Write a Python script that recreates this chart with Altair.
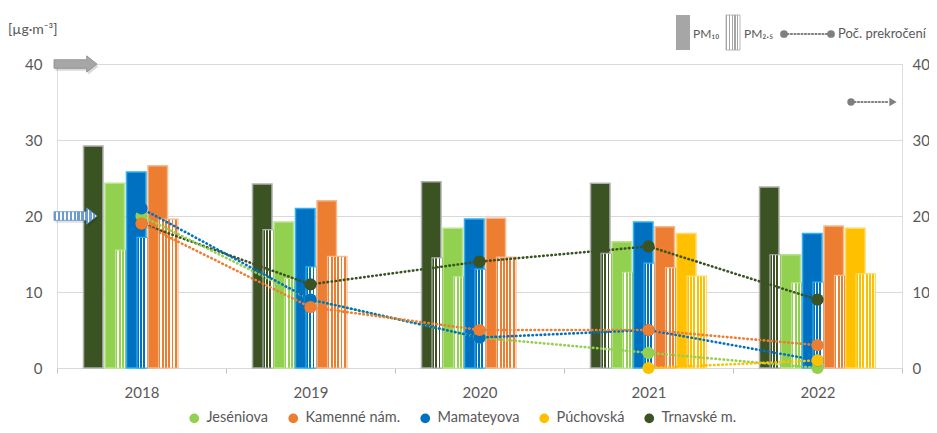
import altair as alt
import pandas as pd

# ---------------- data ----------------
years = ["2018", "2019", "2020", "2021", "2022"]
legend_order = ["Jeséniova", "Kamenné nám.", "Mamateyova", "Púchovská", "Trnavské m."]
legend_colors = ["#92D050", "#ED7D31", "#0070C0", "#FFC000", "#3B5323"]
edge_colors = ["#B9E38F", "#F6B98E", "#2FB0F0", "#FFD966", "#B0B0B0"]

# order of bars inside a year cluster
cluster_order = ["Trnavské m.", "Jeséniova", "Mamateyova", "Kamenné nám.", "Púchovská"]
# z-order of the exceedance points / lines (bottom -> top)
line_order = ["Trnavské m.", "Jeséniova", "Mamateyova", "Kamenné nám.", "Púchovská"]

pm10_trnavske = [29.2, 24.2, 24.5, 24.3, 23.8]
pm10_jeseniova = [24.3, 19.2, 18.4, 16.6, 14.9]
pm10_mamateyova = [25.8, 21.0, 19.6, 19.2, 17.7]
pm10_kamenne = [26.6, 22.0, 19.7, 18.6, 18.7]
pm10_puchovska = [None, None, None, 17.7, 18.4]

pm25_trnavske = [None, 18.2, 14.5, 15.1, 14.9]
pm25_jeseniova = [15.5, 11.8, 12.0, 12.6, 11.2]
pm25_mamateyova = [17.2, 13.3, 13.0, 13.8, 11.3]
pm25_kamenne = [19.6, 14.7, 14.6, 13.2, 12.2]
pm25_puchovska = [None, None, None, 12.1, 12.4]

exc_trnavske = [19, 11, 14, 16, 9]
exc_jeseniova = [20, 9, 4, 2, 0]
exc_mamateyova = [21, 9, 4, 5, 1]
exc_kamenne = [19, 8, 5, 5, 3]
exc_puchovska = [None, None, None, 0, 1]

limit_pm10 = 40
limit_pm25 = 20
limit_exceed = 35

unit_label = "[µg·m⁻³]"
label_pm10 = "PM₁₀"
label_pm25 = "PM₂.₅"
label_exceed = "Poč. prekročení"

pm10 = {"Trnavské m.": pm10_trnavske, "Jeséniova": pm10_jeseniova,
        "Mamateyova": pm10_mamateyova, "Kamenné nám.": pm10_kamenne,
        "Púchovská": pm10_puchovska}
pm25 = {"Trnavské m.": pm25_trnavske, "Jeséniova": pm25_jeseniova,
        "Mamateyova": pm25_mamateyova, "Kamenné nám.": pm25_kamenne,
        "Púchovská": pm25_puchovska}
exc = {"Trnavské m.": exc_trnavske, "Jeséniova": exc_jeseniova,
       "Mamateyova": exc_mamateyova, "Kamenné nám.": exc_kamenne,
       "Púchovská": exc_puchovska}
color_of = dict(zip(legend_order, legend_colors))
edge_of = dict(zip(legend_order, edge_colors))

# ---------------- layout (pixels) ----------------
W, H = 845, 304
BAND = W / len(years)
START, STEP, BARW, OFF25 = -58.0, 21.5, 19.5, 10.5
FONT = "Lato"
GREY_TXT = "#595959"

x_scale = alt.Scale(domain=[-0.5, len(years) - 0.5], nice=False, zero=False)
tick_vals = [i * 0.5 - 0.5 for i in range(2 * len(years) + 1)]
year_arr = "[" + ",".join("'" + y + "'" for y in years) + "]"
x_axis = alt.Axis(
    values=tick_vals, title=None, grid=False,
    labelExpr="datum.value % 1 === 0 ? " + year_arr + "[datum.value] : ''",
    domainColor="#D9D9D9", domainWidth=1,
    tickColor="#BFBFBF", tickSize=5,
    tickOpacity={"condition": {"test": "datum.value % 1 === 0", "value": 0}, "value": 1},
    labelFontSize=15, labelColor=GREY_TXT, labelPadding=12, labelFont=FONT,
)
y_scale_l = alt.Scale(domain=[0, 40], nice=False)
y_scale_r = alt.Scale(domain=[0, 40], nice=False)
y_axis_l = alt.Axis(values=[0, 10, 20, 30, 40], title=None, domain=False, ticks=False,
                    grid=True, gridColor="#D9D9D9", gridWidth=1,
                    labelFontSize=15, labelColor=GREY_TXT, labelPadding=15, labelFont=FONT)
y_axis_r = alt.Axis(values=[0, 10, 20, 30, 40], title=None, domain=False, ticks=False,
                    grid=False, orient="right",
                    labelFontSize=15, labelColor=GREY_TXT, labelPadding=10, labelFont=FONT)


def stripes(color, n=6, share=0.55, bg="#FFFFFF"):
    stops = []
    for j in range(n):
        a, b, c = j / n, (j + share) / n, (j + 1) / n
        stops += [alt.GradientStop(color=color, offset=a), alt.GradientStop(color=color, offset=b),
                  alt.GradientStop(color=bg, offset=b), alt.GradientStop(color=bg, offset=c)]
    return alt.LinearGradient(gradient="linear", stops=stops, x1=0, x2=1, y1=0, y2=0)


# ---------------- bars ----------------
bar_layers = []
for k, st in enumerate(cluster_order):
    for series, values in (("PM10", pm10[st]), ("PM2.5", pm25[st])):
        rows = []
        for i, v in enumerate(values):
            if v is None:
                continue
            x0 = i + (START + STEP * k + (OFF25 if series == "PM2.5" else 0)) / BAND
            rows.append({"year": years[i], "station": st, "series": series,
                         "v": v, "x0": x0, "x1": x0 + BARW / BAND})
        if not rows:
            continue
        df = pd.DataFrame(rows)
        if series == "PM10":
            mark = alt.Chart(df).mark_bar(fill=color_of[st], stroke=edge_of[st], strokeWidth=1.5)
        else:
            mark = alt.Chart(df).mark_bar(fill=stripes(color_of[st]),
                                          stroke=edge_of[st], strokeWidth=1.2)
        bar_layers.append(mark.encode(
            x=alt.X("x0:Q", scale=x_scale, axis=x_axis),
            x2="x1:Q",
            y=alt.Y("v:Q", scale=y_scale_l, axis=y_axis_l),
            y2=alt.datum(0),
        ))

# ---------------- decorations: limit arrows & top legend ----------------
ARROW = "M-1,-0.2 L0.52,-0.2 L0.52,-0.38 L1,0 L0.52,0.38 L0.52,0.2 L-1,0.2 Z"
lim_df = pd.DataFrame({"lim": [limit_pm10]})
lim25_df = pd.DataFrame({"lim": [limit_pm25]})
one = pd.DataFrame({"a": [0]})

arrow_shadow = alt.Chart(lim_df).mark_point(
    shape=ARROW, size=43 * 43, filled=True, fill="#000000", opacity=0.15,
    xOffset=1.5, yOffset=2.5, strokeWidth=0).encode(
    x=alt.value(18.5), y=alt.Y("lim:Q", scale=y_scale_l, axis=y_axis_l))
arrow40 = alt.Chart(lim_df).mark_point(
    shape=ARROW, size=43 * 43, filled=True, fill="#A6A6A6", stroke="#8C8C8C",
    strokeWidth=0.8, opacity=1).encode(
    x=alt.value(18.5), y=alt.Y("lim:Q", scale=y_scale_l, axis=y_axis_l))
arrow20_shadow = alt.Chart(lim25_df).mark_point(
    shape=ARROW, size=43 * 43, filled=True, fill="#000000", opacity=0.12,
    xOffset=1.5, yOffset=2.5, strokeWidth=0).encode(
    x=alt.value(18.5), y=alt.Y("lim:Q", scale=y_scale_l, axis=y_axis_l))
arrow20 = alt.Chart(lim25_df).mark_point(
    shape=ARROW, size=43 * 43, filled=True, fill=stripes("#6E9BD3", n=11, share=0.6),
    stroke="#5B8FD0", strokeWidth=0.8, opacity=1).encode(
    x=alt.value(18.5), y=alt.Y("lim:Q", scale=y_scale_l, axis=y_axis_l))

unit_txt = alt.Chart(one).mark_text(align="left", baseline="middle", fontSize=14,
                                    color=GREY_TXT, font=FONT, text=unit_label).encode(
    x=alt.value(-49), y=alt.value(-34))

sw10 = alt.Chart(one).mark_rect(fill="#A6A6A6").encode(
    x=alt.value(619), x2=alt.value(633), y=alt.value(-49), y2=alt.value(-14))
sw25 = alt.Chart(one).mark_rect(fill=stripes("#A6A6A6", n=5, share=0.45), stroke="#A6A6A6",
                                strokeWidth=0.8).encode(
    x=alt.value(669), x2=alt.value(683), y=alt.value(-49), y2=alt.value(-14))
t10 = alt.Chart(one).mark_text(align="left", baseline="middle", fontSize=12, color=GREY_TXT,
                               font=FONT, text=label_pm10).encode(x=alt.value(636), y=alt.value(-30))
t25 = alt.Chart(one).mark_text(align="left", baseline="middle", fontSize=12, color=GREY_TXT,
                               font=FONT, text=label_pm25).encode(x=alt.value(687), y=alt.value(-30))
leg_line = alt.Chart(one).mark_rule(color="#7F7F7F", strokeWidth=2.2, strokeDash=[1, 2.5],
                                    strokeCap="round").encode(
    x=alt.value(727), x2=alt.value(774), y=alt.value(-30))
leg_dot1 = alt.Chart(one).mark_point(shape="circle", filled=True, size=60, color="#7F7F7F",
                                     opacity=1).encode(x=alt.value(727), y=alt.value(-30))
leg_dot2 = alt.Chart(one).mark_point(shape="circle", filled=True, size=60, color="#7F7F7F",
                                     opacity=1).encode(x=alt.value(774), y=alt.value(-30))
t_exc = alt.Chart(one).mark_text(align="left", baseline="middle", fontSize=13, color=GREY_TXT,
                                 font=FONT, text=label_exceed).encode(x=alt.value(781), y=alt.value(-30))

exc_df = pd.DataFrame({"lim": [limit_exceed]})
exc_line = alt.Chart(exc_df).mark_rule(color="#7F7F7F", strokeWidth=2.2, strokeDash=[1, 2.5],
                                       strokeCap="round").encode(
    x=alt.value(794), x2=alt.value(831), y=alt.Y("lim:Q", scale=y_scale_r, axis=y_axis_r))
exc_dot = alt.Chart(exc_df).mark_point(shape="circle", filled=True, size=55, color="#7F7F7F",
                                       opacity=1).encode(
    x=alt.value(794), y=alt.Y("lim:Q", scale=y_scale_r, axis=y_axis_r))
exc_head = alt.Chart(exc_df).mark_point(shape="triangle-right", filled=True, size=70,
                                        color="#7F7F7F", opacity=1).encode(
    x=alt.value(836), y=alt.Y("lim:Q", scale=y_scale_r, axis=y_axis_r))

# ---------------- exceedance lines & points ----------------
line_layers = []
pt_rows = []
for z, st in enumerate(line_order):
    rows = [{"xc": i, "n": n, "station": st, "z": z} for i, n in enumerate(exc[st]) if n is not None]
    pt_rows += rows
    line_layers.append(alt.Chart(pd.DataFrame(rows)).mark_line(
        stroke=color_of[st], strokeWidth=2.6, strokeDash=[0.5, 3.6], strokeCap="round").encode(
        x=alt.X("xc:Q", scale=x_scale, axis=x_axis),
        y=alt.Y("n:Q", scale=y_scale_r, axis=y_axis_r),
    ))

points = alt.Chart(pd.DataFrame(pt_rows)).mark_point(
    shape="circle", filled=True, size=150, opacity=1).encode(
    x=alt.X("xc:Q", scale=x_scale, axis=x_axis),
    y=alt.Y("n:Q", scale=y_scale_r, axis=y_axis_r),
    color=alt.Color("station:N",
                    scale=alt.Scale(domain=legend_order, range=legend_colors),
                    legend=alt.Legend(orient="none", legendX=130, legendY=347,
                                      direction="horizontal", columns=5, title=None,
                                      symbolType="circle", symbolSize=95,
                                      symbolStrokeWidth=0, labelFontSize=14.5,
                                      labelColor=GREY_TXT, labelFont=FONT,
                                      columnPadding=17, labelOffset=5)),
    order=alt.Order("z:Q"),
)

left_group = alt.layer(*bar_layers, arrow_shadow, arrow40, arrow20_shadow, arrow20,
                       unit_txt, sw10, sw25, t10, t25, leg_line, leg_dot1, leg_dot2, t_exc)
right_group = alt.layer(*line_layers, points, exc_line, exc_dot, exc_head)

chart = alt.layer(left_group, right_group).resolve_scale(y="independent").properties(
    width=W, height=H,
    autosize=alt.AutoSizeParams(type="none"),
    padding={"left": 49, "top": 56, "right": 27, "bottom": 57},
    background="#FFFFFF",
).configure_view(stroke=None).configure(font=FONT)

chart.save("out.html", embed_options={"renderer": "svg", "actions": False})
